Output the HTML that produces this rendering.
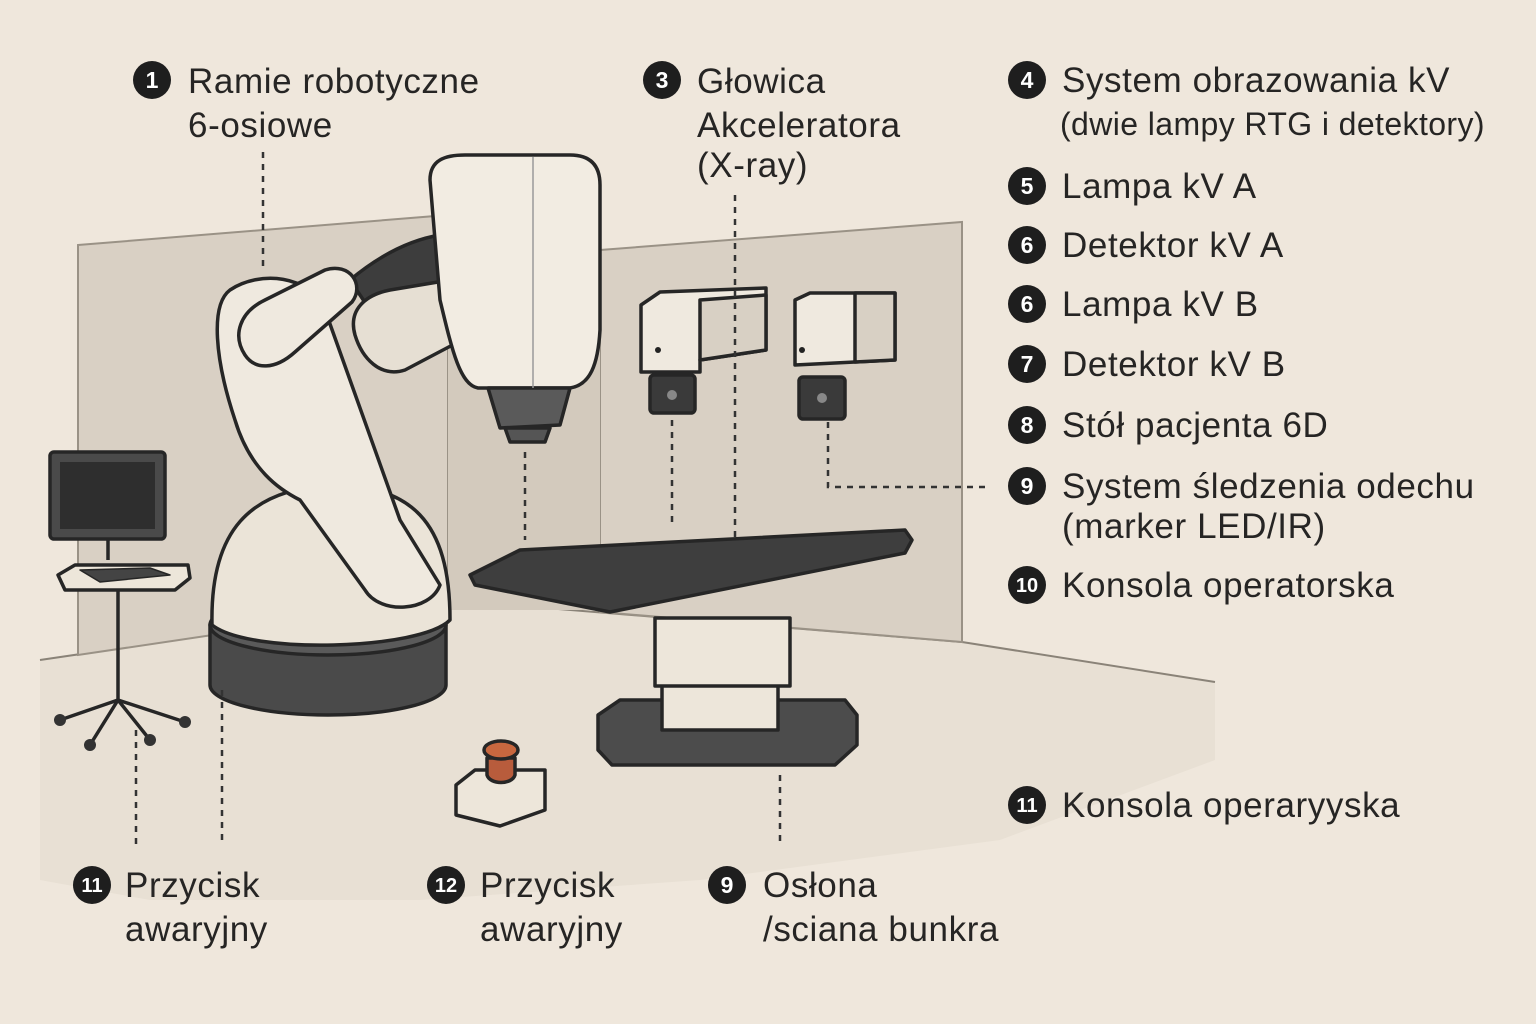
<!DOCTYPE html>
<html><head><meta charset="utf-8"><style>
html,body{margin:0;padding:0;background:#efe7dc;}
svg{display:block}
text{font-family:"Liberation Sans",sans-serif;fill:#262524;}
.n{fill:#fff;font-weight:bold;font-size:23px;text-anchor:middle}
.s{font-size:20px}
.l{font-size:35px;letter-spacing:0.6px}
.d{stroke:#333;stroke-width:2.5;stroke-dasharray:6 6;fill:none}
.o{stroke:#262626;stroke-width:3.5;stroke-linejoin:round}
</style></head><body>
<svg width="1536" height="1024" viewBox="0 0 1536 1024" xmlns="http://www.w3.org/2000/svg">
<rect width="1536" height="1024" fill="#efe7dc"/>
<!-- floor -->
<polygon points="40,660 448,600 962,642 1215,682 1215,760 1000,840 700,880 420,900 150,900 40,880" fill="#e8e0d4"/>
<polyline points="40,660 448,600 962,642 1215,682" fill="none" stroke="#8a8378" stroke-width="2"/>
<!-- walls -->
<polygon points="78,245 448,215 448,600 78,655" fill="#d9d0c4" stroke="#9a9286" stroke-width="2"/>
<polygon points="600,250 962,222 962,642 600,612" fill="#d9d0c4" stroke="#9a9286" stroke-width="2"/>
<rect x="448" y="250" width="152" height="360" fill="#d3cabd"/>
<!-- imaging units -->
<g class="o">
<path d="M641,305 L660,292 L766,288 L766,350 L700,360 L700,372 L641,372 Z" fill="#efe9df"/>
<path d="M700,300 L766,295 L766,350 L700,360 Z" fill="#d8d0c4"/>
<rect x="650" y="375" width="45" height="38" rx="4" fill="#3a3a3a"/>
<path d="M795,300 L810,293 L895,293 L895,360 L795,365 Z" fill="#efe9df"/>
<path d="M855,293 L895,293 L895,360 L855,362 Z" fill="#d8d0c4"/>
<rect x="799" y="377" width="46" height="42" rx="4" fill="#3a3a3a"/>
</g>
<circle cx="658" cy="350" r="3" fill="#222"/><circle cx="802" cy="350" r="3" fill="#222"/>
<circle cx="672" cy="395" r="5" fill="#888"/><circle cx="822" cy="398" r="5" fill="#888"/>
<!-- robot -->
<g class="o">
<path d="M210,625 L210,685 A118,30 0 0 0 446,685 L446,625 Z" fill="#4a4a4a"/>
<ellipse cx="328" cy="625" rx="118" ry="30" fill="#5a5a5a"/>
<path d="M212,625 C210,530 250,490 330,485 C410,485 450,520 450,620 C420,650 250,655 212,625 Z" fill="#ebe4d8"/>
<path d="M350,280 C380,255 410,240 440,235 L445,290 C420,296 395,300 370,310 Z" fill="#3d3d3d"/>
<path d="M355,335 C348,310 365,295 390,290 L450,280 L462,340 L405,370 C380,378 362,358 355,335 Z" fill="#e6dfd3"/>
<path d="M230,290 C260,270 310,275 325,310 L400,520 L440,585 C430,612 380,615 365,590 L300,500 C280,490 250,470 235,420 C215,360 210,305 230,290 Z" fill="#efe9df"/>
<path d="M245,355 C232,335 240,312 265,300 L325,270 C350,262 365,285 352,302 L295,352 C275,370 255,370 245,355 Z" fill="#efe9df"/>
<path d="M430,180 C430,160 445,155 465,155 L570,155 C590,155 600,165 600,185 L600,330 C598,365 590,385 570,388 L478,388 C460,385 452,350 440,300 Z" fill="#f2ece2"/>
<path d="M488,388 L570,388 L560,425 L500,428 Z" fill="#5a5a5a"/>
<path d="M505,428 L550,428 L545,442 L510,442 Z" fill="#555"/>
</g>
<path d="M533,157 L533,388" stroke="#999" stroke-width="1.5"/>
<!-- table -->
<g class="o">
<path d="M598,715 L620,700 L845,700 L857,715 L857,745 L835,765 L612,765 L598,750 Z" fill="#4c4c4c"/>
<rect x="662" y="680" width="116" height="50" fill="#ede6da"/>
<rect x="655" y="618" width="135" height="68" fill="#ede6da"/>
<path d="M470,575 L520,550 L905,530 L912,540 L905,553 L610,612 L475,585 Z" fill="#3e3e3e"/>
</g>
<!-- monitor / stand -->
<g class="o">
<rect x="50" y="452" width="115" height="87" rx="4" fill="#4a4a4a"/>
<rect x="60" y="462" width="95" height="67" fill="#2e2e2e" stroke="none"/>
<path d="M108,539 L108,560 M118,590 L118,700" fill="none"/>
<path d="M58,575 L75,565 L188,565 L190,578 L175,590 L65,590 Z" fill="#ede6da"/>
<path d="M80,570 L150,568 L170,575 L100,582 Z" fill="#444" stroke-width="1.5"/>
<path d="M60,720 L118,700 L185,722 M118,700 L90,745 M118,700 L150,740" fill="none"/>
</g>
<circle cx="60" cy="720" r="6" fill="#333"/><circle cx="185" cy="722" r="6" fill="#333"/><circle cx="90" cy="745" r="6" fill="#333"/><circle cx="150" cy="740" r="6" fill="#333"/>
<!-- emergency button -->
<g class="o">
<path d="M456,785 L475,770 L545,770 L545,810 L500,826 L456,815 Z" fill="#ede6da"/>
<path d="M487,758 L487,775 C490,785 512,785 515,775 L515,758 Z" fill="#b85c3c"/>
<ellipse cx="501" cy="750" rx="17" ry="9" fill="#c8673f"/>
</g>
<!-- dotted leaders -->
<path class="d" d="M263,152 V272 M525,452 V540 M735,195 V540 M672,420 V528 M828,422 V487 H990 M222,690 V840 M136,730 V845 M780,775 V845"/>
<!-- labels -->
<g>
<circle cx="152" cy="80" r="19" fill="#1e1e1e"/><text class="n" x="152" y="88">1</text>
<text class="l" x="188" y="93">Ramie robotyczne</text><text class="l" x="188" y="137">6-osiowe</text>
<circle cx="662" cy="80" r="19" fill="#1e1e1e"/><text class="n" x="662" y="88">3</text>
<text class="l" x="697" y="93">Głowica</text><text class="l" x="697" y="137">Akceleratora</text><text class="l" x="697" y="177">(X-ray)</text>
<circle cx="1027" cy="80" r="19" fill="#1e1e1e"/><text class="n" x="1027" y="88">4</text>
<text class="l" x="1062" y="92">System obrazowania kV</text><text x="1060" y="135" style="font-size:32px;letter-spacing:0.4px">(dwie lampy RTG i detektory)</text>
<circle cx="1027" cy="186" r="19" fill="#1e1e1e"/><text class="n" x="1027" y="194">5</text><text class="l" x="1062" y="198">Lampa kV A</text>
<circle cx="1027" cy="245" r="19" fill="#1e1e1e"/><text class="n" x="1027" y="253">6</text><text class="l" x="1062" y="257">Detektor kV A</text>
<circle cx="1027" cy="304" r="19" fill="#1e1e1e"/><text class="n" x="1027" y="312">6</text><text class="l" x="1062" y="316">Lampa kV B</text>
<circle cx="1027" cy="364" r="19" fill="#1e1e1e"/><text class="n" x="1027" y="372">7</text><text class="l" x="1062" y="376">Detektor kV B</text>
<circle cx="1027" cy="425" r="19" fill="#1e1e1e"/><text class="n" x="1027" y="433">8</text><text class="l" x="1062" y="437">Stół pacjenta 6D</text>
<circle cx="1027" cy="486" r="19" fill="#1e1e1e"/><text class="n" x="1027" y="494">9</text><text class="l" x="1062" y="498">System śledzenia odechu</text><text class="l" x="1062" y="538">(marker LED/IR)</text>
<circle cx="1027" cy="585" r="19" fill="#1e1e1e"/><text class="n s" x="1027" y="592">10</text><text class="l" x="1062" y="597">Konsola operatorska</text>
<circle cx="1027" cy="805" r="19" fill="#1e1e1e"/><text class="n s" x="1027" y="812">11</text><text class="l" x="1062" y="817">Konsola operaryyska</text>
<circle cx="92" cy="885" r="19" fill="#1e1e1e"/><text class="n s" x="92" y="892">11</text>
<text class="l" x="125" y="897">Przycisk</text><text class="l" x="125" y="941">awaryjny</text>
<circle cx="446" cy="885" r="19" fill="#1e1e1e"/><text class="n s" x="446" y="892">12</text>
<text class="l" x="480" y="897">Przycisk</text><text class="l" x="480" y="941">awaryjny</text>
<circle cx="727" cy="885" r="19" fill="#1e1e1e"/><text class="n" x="727" y="893">9</text>
<text class="l" x="763" y="897">Osłona</text><text class="l" x="763" y="941">/sciana bunkra</text>
</g>
</svg>
</body></html>
